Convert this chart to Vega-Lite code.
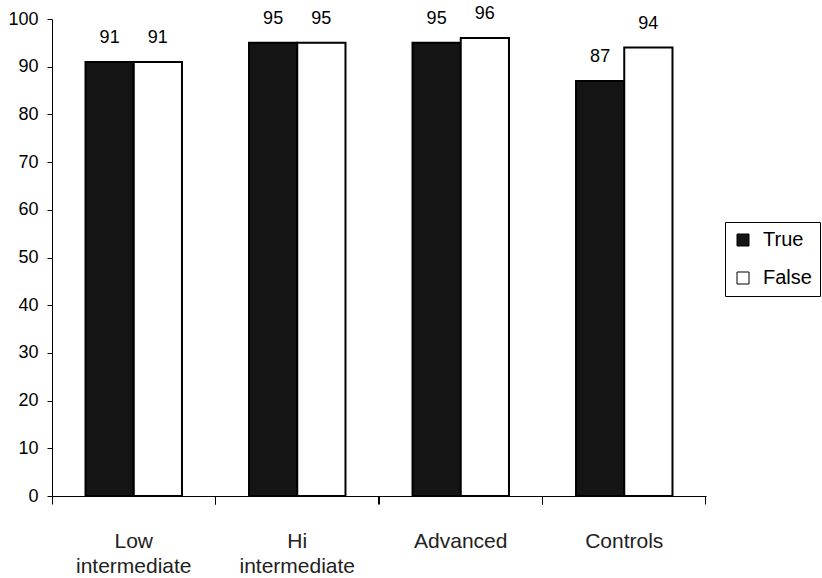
{
  "$schema": "https://vega.github.io/schema/vega-lite/v6.json",
  "autosize": "none",
  "width": 654,
  "height": 477,
  "padding": {"left": 52, "top": 19, "right": 116, "bottom": 82},
  "background": "white",
  "config": {
    "view": {"stroke": null},
    "font": "Liberation Sans",
    "axis": {"domainColor": "black", "tickColor": "black", "labelColor": "black", "grid": false}
  },
  "data": {
    "values": [
      {"group": "Low intermediate", "type": "True", "value": 91},
      {"group": "Low intermediate", "type": "False", "value": 91},
      {"group": "Hi intermediate", "type": "True", "value": 95},
      {"group": "Hi intermediate", "type": "False", "value": 95},
      {"group": "Advanced", "type": "True", "value": 95},
      {"group": "Advanced", "type": "False", "value": 96},
      {"group": "Controls", "type": "True", "value": 87},
      {"group": "Controls", "type": "False", "value": 94}
    ]
  },
  "encoding": {
    "x": {
      "field": "group",
      "type": "nominal",
      "sort": ["Low intermediate", "Hi intermediate", "Advanced", "Controls"],
      "scale": {"paddingInner": 0.41, "paddingOuter": 0.205}
    },
    "xOffset": {
      "field": "type",
      "type": "nominal",
      "sort": ["True", "False"],
      "scale": {"paddingInner": 0, "paddingOuter": 0}
    },
    "y": {
      "field": "value",
      "type": "quantitative",
      "scale": {"domain": [0, 100], "nice": false},
      "axis": {
        "title": null,
        "values": [0, 10, 20, 30, 40, 50, 60, 70, 80, 90, 100],
        "tickSize": 5,
        "labelPadding": 9,
        "labelFontSize": 18,
        "domainWidth": 1,
        "tickWidth": 1
      }
    }
  },
  "layer": [
    {
      "mark": {"type": "bar", "stroke": "black", "strokeWidth": 2},
      "encoding": {
        "color": {
          "field": "type",
          "type": "nominal",
          "sort": ["True", "False"],
          "scale": {"domain": ["True", "False"], "range": ["#141414", "#ffffff"]},
          "legend": {
            "title": null,
            "orient": "none",
            "legendX": 673,
            "legendY": 203,
            "padding": 8,
            "strokeColor": "black",
            "fillColor": "white",
            "symbolType": "square",
            "symbolSize": 144,
            "symbolStrokeColor": "black",
            "symbolStrokeWidth": 1,
            "labelFontSize": 20,
            "labelColor": "black",
            "rowPadding": 18,
            "labelOffset": 10
          }
        },
        "x": {
          "field": "group",
          "type": "nominal",
          "sort": ["Low intermediate", "Hi intermediate", "Advanced", "Controls"],
          "axis": {
            "title": null,
            "orient": "bottom",
            "ticks": true,
            "tickSize": 8,
            "bandPosition": 1.3473,
            "domain": false,
            "labelAngle": 0,
            "labelFontSize": 21,
            "labelColor": "#222",
            "labelPadding": 26,
            "labelLineHeight": 25,
            "labelExpr": "split(datum.label, ' ')"
          }
        }
      }
    },
    {
      "mark": {"type": "text", "fontSize": 18, "dy": -19, "baseline": "alphabetic", "color": "black"},
      "encoding": {
        "text": {"field": "value", "type": "quantitative"},
        "x": {
          "field": "group",
          "type": "nominal",
          "sort": ["Low intermediate", "Hi intermediate", "Advanced", "Controls"],
          "axis": {
            "title": null,
            "orient": "bottom",
            "labels": false,
            "ticks": true,
            "tickSize": 8,
            "bandPosition": -0.3473,
            "domain": true,
            "domainWidth": 1
          }
        }
      }
    }
  ],
  "resolve": {"axis": {"x": "independent"}}
}
